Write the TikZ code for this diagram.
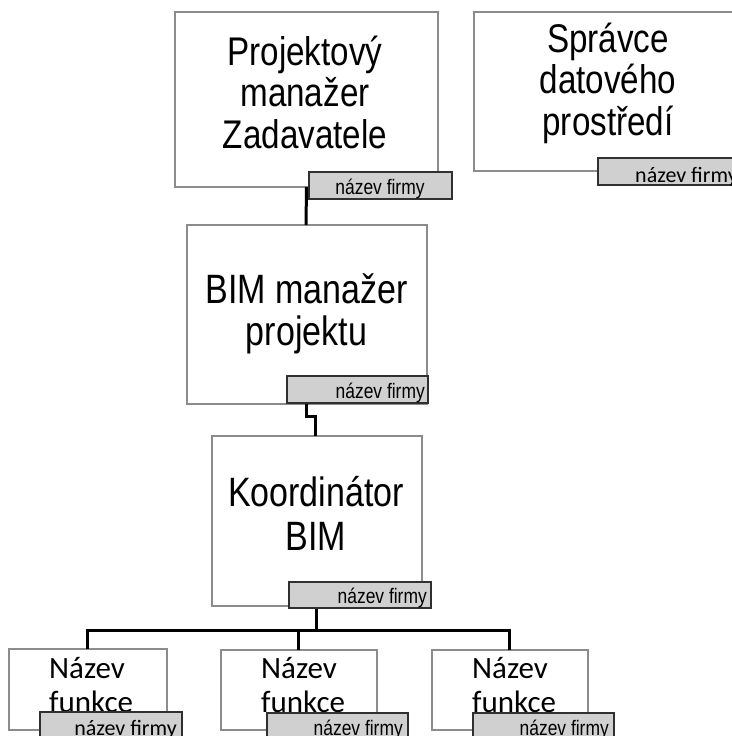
\documentclass[tikz,border=0pt]{standalone}
\usepackage{fontspec}
\setmainfont{Liberation Sans}
\newfontfamily\bigf[FakeStretch=0.83]{Liberation Sans}
\newfontfamily\tagf[FakeStretch=0.83]{Liberation Sans}
\newfontfamily\calf{Carlito}
\definecolor{boxline}{HTML}{8C8C8C}
\definecolor{tagfill}{HTML}{D0D0D0}
\definecolor{tagline}{HTML}{303030}
\begin{document}
\begin{tikzpicture}[x=1pt,y=-1pt,
  rolebox/.style={draw=boxline,line width=1.3pt,fill=white},
  tagbox/.style={draw=tagline,line width=1.5pt,fill=tagfill},
  bigtext/.style={anchor=base,align=center,inner sep=0pt,font=\bigf\fontsize{40}{41.5}\selectfont},
  smalltext/.style={anchor=base west,align=left,inner sep=0pt,font=\calf\fontsize{31}{34}\selectfont},
  tagtext/.style={anchor=base east,inner sep=0pt,font=\tagf\fontsize{21}{24}\selectfont},
  conn/.style={draw=black,line width=3pt}]
\useasboundingbox (0,0) rectangle (731,736);
% boxes
\path[rolebox] (175,12) rectangle (438,187);
\coordinate (b1n) at (306.5,12); \coordinate (b1s) at (306.5,187);
\node[bigtext] (t1) at (305,148) {Projektový\\manažer\\Zadavatele};

\path[rolebox] (474,12) rectangle (742,171);
\node[bigtext] (t2) at (608,135) {Správce\\datového\\prostředí};

\path[rolebox] (187,225) rectangle (427,404);
\coordinate (b3n) at (306,225); \coordinate (b3s) at (306,404);
\node[bigtext,font=\bigf\fontsize{41}{42}\selectfont] (t3) at (306.5,345) {BIM manažer\\projektu};

\path[rolebox] (212,436) rectangle (422,606);
\coordinate (b4n) at (315,436); \coordinate (b4s) at (316,606);
\node[bigtext,font=\bigf\fontsize{41}{44}\selectfont] (t4) at (316,550) {Koordinátor\\BIM};

\path[rolebox] (9,649) rectangle (167,730);
\coordinate (b5n) at (87,649);
\node[smalltext] (t5) at (49,712) {Název\\funkce};
\path[rolebox] (221,650) rectangle (377,730);
\coordinate (b6n) at (298,650);
\node[smalltext] (t6) at (261,712) {Název\\funkce};
\path[rolebox] (432,650) rectangle (588,730);
\coordinate (b7n) at (509,650);
\node[smalltext] (t7) at (472,712) {Název\\funkce};

% connectors
\coordinate (bus) at (0,630);
\draw[conn] (b1s) -- (b3n);
\draw[conn] (b3s) -- (306,416) -- (315,416) -- (b4n);
\draw[conn] (b4s) -- (b4s |- bus);
\draw[conn] (b5n) -- (b5n |- bus) -| (b7n);
\draw[conn] (b6n) -- (b6n |- bus);

% tags
\path[tagbox] (309,172) rectangle (452,199);
\node[tagtext,anchor=base] (g1) at (380,194) {název firmy};
\path[tagbox] (598,158) rectangle (742,185);
\node[anchor=base west,inner sep=0pt,font=\calf\fontsize{22}{24}\selectfont] (g2) at (635,182) {název firmy};
\path[tagbox] (287,376) rectangle (428,403);
\node[tagtext] (g3) at (425,398) {název firmy};
\path[tagbox] (289,582) rectangle (431,608);
\node[tagtext] (g4) at (427,603) {název firmy};
\path[tagbox] (40,712) rectangle (182,742);
\node[anchor=base east,inner sep=0pt,font=\calf\fontsize{22}{24}\selectfont] (g5) at (177,735) {název firmy};
\path[tagbox] (267,713) rectangle (408,742);
\node[tagtext] (g6) at (403,735) {název firmy};
\path[tagbox] (473,713) rectangle (614,742);
\node[tagtext] (g7) at (609,735) {název firmy};
\end{tikzpicture}
\end{document}
